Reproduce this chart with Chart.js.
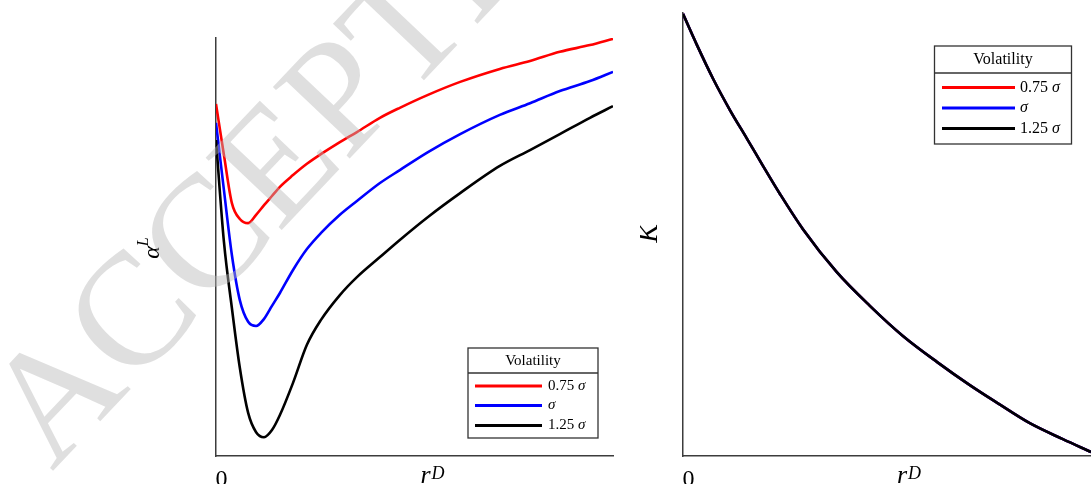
<!DOCTYPE html>
<html>
<head>
<meta charset="utf-8">
<script src="https://cdn.jsdelivr.net/npm/chart.js@4.4.1/dist/chart.umd.min.js"></script>
<style>
  body { margin: 0; background: #fff; }
  #wrap { position: relative; width: 1091px; height: 484px; overflow: hidden; }
  .panel { position: absolute; top: 0; height: 484px; }
  #left { left: 0; width: 640px; }
  #right { left: 640px; width: 451px; }
</style>
</head>
<body>
<div id="wrap">
  <div class="panel" id="left"><canvas id="alphaChart"></canvas></div>
  <div class="panel" id="right"><canvas id="kChart"></canvas></div>
</div>
<script>
const SERIF = '"Liberation Serif", "DejaVu Serif", serif';

// volatility cases, in the order they are plotted
const volFactors = ['0.75', '', '1.25'];
const volColors = ['#ff0000', '#0000ff', '#000000'];

// left panel: alpha^L against r^D (both scaled to [0, 1])
const rD = [0, 0.020, 0.040, 0.060, 0.081, 0.101, 0.121, 0.141, 0.161, 0.194, 0.229, 0.264,
  0.312, 0.355, 0.413, 0.463, 0.534, 0.615, 0.715, 0.791, 0.866, 0.942, 1.0];
const alphaLow = [0.842, 0.720, 0.605, 0.567, 0.557, 0.577, 0.600, 0.622, 0.644, 0.672, 0.699, 0.722,
  0.751, 0.775, 0.809, 0.833, 0.864, 0.895, 0.926, 0.945, 0.967, 0.983, 0.998];
const alphaMid = [0.797, 0.636, 0.481, 0.373, 0.321, 0.311, 0.328, 0.359, 0.390, 0.445, 0.495, 0.533,
  0.577, 0.610, 0.653, 0.684, 0.727, 0.770, 0.816, 0.844, 0.873, 0.897, 0.919];
const alphaHigh = [0.756, 0.512, 0.354, 0.211, 0.103, 0.057, 0.045, 0.062, 0.098, 0.175, 0.266, 0.325,
  0.385, 0.428, 0.476, 0.517, 0.572, 0.629, 0.694, 0.732, 0.770, 0.809, 0.837];

// right panel: K against r^D; the three volatility cases lie on the same curve
const rDK = [0, 0.034, 0.074, 0.115, 0.157, 0.196, 0.238, 0.294, 0.377, 0.458, 0.539, 0.623,
  0.703, 0.770, 0.850, 0.931, 1.0];
const kLow = [0.998, 0.928, 0.851, 0.781, 0.716, 0.655, 0.591, 0.512, 0.415, 0.339, 0.271, 0.212,
  0.160, 0.120, 0.074, 0.038, 0.009];
const kMid = kLow.slice();
const kHigh = kLow.slice();

function points(xs, ys) {
  return xs.map((x, i) => ({ x: x, y: ys[i] }));
}

function volDatasets(xs, series) {
  return series.map((ys, i) => ({
    label: (volFactors[i] ? volFactors[i] + ' ' : '') + 'σ',
    data: points(xs, ys),
    borderColor: volColors[i],
    borderWidth: 2.6,
    pointRadius: 0,
    cubicInterpolationMode: 'monotone',
    order: series.length - i
  }));
}

// boxed legend with a "Volatility" header row
const volLegend = {
  id: 'volLegend',
  afterDatasetsDraw(chart, args, o) {
    const ctx = chart.ctx;
    ctx.save();
    ctx.fillStyle = '#fff';
    ctx.fillRect(o.x, o.y, o.w, o.h);
    ctx.strokeStyle = '#333';
    ctx.lineWidth = 1.3;
    ctx.strokeRect(o.x, o.y, o.w, o.h);
    ctx.beginPath();
    ctx.moveTo(o.x, o.sepY);
    ctx.lineTo(o.x + o.w, o.sepY);
    ctx.stroke();

    ctx.fillStyle = '#000';
    ctx.textBaseline = 'middle';
    ctx.textAlign = 'center';
    ctx.font = o.size + 'px ' + SERIF;
    ctx.fillText('Volatility', o.x + o.w / 2, o.titleY);

    ctx.textAlign = 'left';
    chart.data.datasets.forEach((ds, i) => {
      const y = o.rowY[i];
      ctx.strokeStyle = ds.borderColor;
      ctx.lineWidth = 2.8;
      ctx.beginPath();
      ctx.moveTo(o.lineX0, y);
      ctx.lineTo(o.lineX1, y);
      ctx.stroke();
      let tx = o.textX;
      const plain = ds.label.slice(0, -1);
      ctx.font = o.size + 'px ' + SERIF;
      if (plain) {
        ctx.fillText(plain, tx, y);
        tx += ctx.measureText(plain).width;
      }
      ctx.font = 'italic ' + o.size + 'px ' + SERIF;
      ctx.fillText('σ', tx, y);
    });
    ctx.restore();
  }
};

// "0" under the origin, r^D under the x axis, rotated y label
const axisText = {
  id: 'axisText',
  afterDraw(chart, args, o) {
    const ctx = chart.ctx;
    const area = chart.chartArea;
    ctx.save();
    ctx.fillStyle = '#000';
    ctx.textBaseline = 'alphabetic';
    ctx.textAlign = 'center';

    ctx.font = '24px ' + SERIF;
    ctx.fillText('0', area.left + 5.5, 486);

    const cx = (area.left + area.right) / 2 + o.xLabelShift;
    ctx.textAlign = 'left';
    ctx.font = 'italic 26px ' + SERIF;
    ctx.fillText('r', cx, 483);
    const rw = ctx.measureText('r').width;
    ctx.font = 'italic 18px ' + SERIF;
    ctx.fillText('D', cx + rw + 1, 479);

    ctx.translate(o.yLabelX, (area.top + area.bottom) / 2 + o.yLabelShift);
    ctx.rotate(-Math.PI / 2);
    ctx.font = 'italic ' + o.yLabelSize + 'px ' + SERIF;
    const mw = ctx.measureText(o.yLabel).width;
    let supW = 0;
    if (o.yLabelSup) {
      ctx.font = 'italic ' + Math.round(o.yLabelSize * 0.65) + 'px ' + SERIF;
      supW = ctx.measureText(o.yLabelSup).width;
    }
    const start = -(mw + supW) / 2;
    ctx.font = 'italic ' + o.yLabelSize + 'px ' + SERIF;
    ctx.fillText(o.yLabel, start, 0);
    if (o.yLabelSup) {
      ctx.font = 'italic ' + Math.round(o.yLabelSize * 0.65) + 'px ' + SERIF;
      ctx.fillText(o.yLabelSup, start + mw, -o.yLabelSize * 0.45);
    }
    ctx.restore();
  }
};

// light grey stamp laid over the left panel
const stamp = {
  id: 'stamp',
  afterDraw(chart, args, o) {
    if (!o.text) return;
    const ctx = chart.ctx;
    ctx.save();
    ctx.translate(o.x, o.y);
    ctx.rotate(-o.angle * Math.PI / 180);
    ctx.font = o.size + 'px ' + SERIF;
    ctx.fillStyle = 'rgba(185,185,185,0.45)';
    ctx.textAlign = 'left';
    ctx.textBaseline = 'alphabetic';
    ctx.fillText(o.text, 0, 0);
    ctx.restore();
  }
};

function axisScale() {
  return {
    type: 'linear',
    min: 0,
    max: 1,
    grid: { display: false, drawTicks: false },
    ticks: { display: false },
    border: { display: true, color: '#3c3c3c', width: 1.5 }
  };
}

function makeChart(id, datasets, padding, plugins) {
  return new Chart(document.getElementById(id), {
    type: 'line',
    data: { datasets: datasets },
    options: {
      responsive: true,
      maintainAspectRatio: false,
      animation: false,
      layout: { padding: padding },
      scales: { x: axisScale(), y: axisScale() },
      plugins: Object.assign({ legend: { display: false }, tooltip: { enabled: false } }, plugins)
    },
    plugins: [volLegend, axisText, stamp]
  });
}

makeChart('alphaChart', volDatasets(rD, [alphaLow, alphaMid, alphaHigh]),
  { left: 216, right: 27, top: 38, bottom: 28 },
  {
    volLegend: { x: 468, y: 348, w: 130, h: 90, sepY: 373, titleY: 361,
      rowY: [386, 405.5, 425.5], lineX0: 475, lineX1: 542, textX: 548, size: 15 },
    axisText: { xLabelShift: 6, yLabel: 'α', yLabelSup: 'L', yLabelSize: 24,
      yLabelX: 159, yLabelShift: 1 },
    stamp: { text: 'ACCEPTED MANUSCRIPT', x: 52, y: 472, angle: 46.5, size: 160 }
  });

makeChart('kChart', volDatasets(rDK, [kLow, kMid, kHigh]),
  { left: 43, right: 0, top: 13, bottom: 28 },
  {
    volLegend: { x: 294.5, y: 46, w: 137, h: 98, sepY: 73, titleY: 60,
      rowY: [87.5, 108, 128.5], lineX0: 302, lineX1: 375, textX: 380, size: 16 },
    axisText: { xLabelShift: 10, yLabel: 'K', yLabelSup: '', yLabelSize: 28,
      yLabelX: 17, yLabelShift: -1 },
    stamp: { text: '' }
  });
</script>
</body>
</html>
